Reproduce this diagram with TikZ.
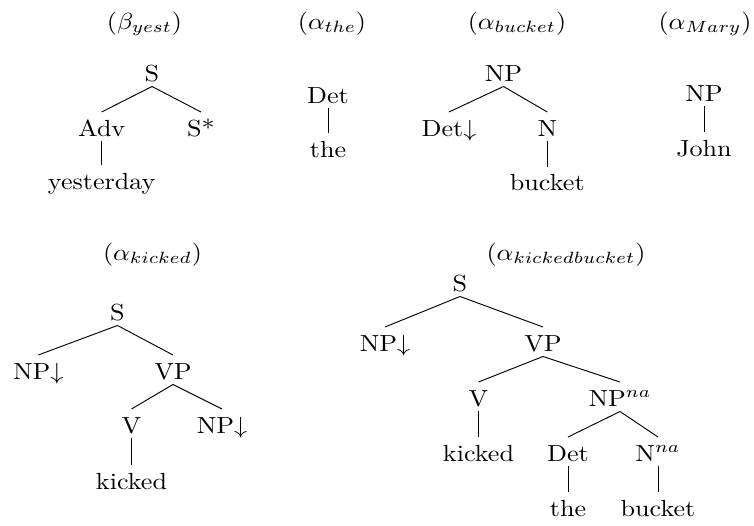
\documentclass[tikz,border=0pt]{standalone}
\usepackage{graphicx}
\newcommand{\wx}[1]{\scalebox{1.12}[1]{#1}}
\begin{document}
\begin{tikzpicture}[x=0.4292pt,y=-0.4292pt,
  tn/.style={anchor=base, inner xsep=1pt, inner ysep=0pt, text height=10.1pt, text depth=2.15pt},
  lab/.style={anchor=base, inner sep=0pt},
  edge/.style={line width=0.4pt}]
\useasboundingbox (0,0) rectangle (754,525);
% labels
\node[lab] (l1) at (144.5,29) {\wx{$(\beta_{yest})$}};
\node[lab] (l2) at (332,29) {\wx{$(\alpha_{the})$}};
\node[lab] (l3) at (517,29) {\wx{$(\alpha_{bucket})$}};
\node[lab] (l4) at (705,29) {\wx{$(\alpha_{Mary})$}};
\node[lab] (l5) at (152.5,260) {\wx{$(\alpha_{kicked})$}};
\node[lab] (l6) at (566,260) {\wx{$(\alpha_{kickedbucket})$}};
% beta yest
\node[tn] (bS) at (152,81) {\wx{S}};
\node[tn] (bAdv) at (101.7,136) {\wx{Adv}};
\node[tn] (bSs) at (201,136) {\wx{S*}};
\node[tn] (bY) at (101.7,189) {\wx{yesterday}};
\draw[edge] (bS.south) -- (bAdv.north);
\draw[edge] (bS.south) -- (bSs.north);
\draw[edge] (bAdv.south) -- (bY.north);
% alpha the
\node[tn] (tD) at (328,103) {\wx{Det}};
\node[tn] (tT) at (328,157) {\wx{the}};
\draw[edge] (tD.south) -- (tT.north);
% alpha bucket
\node[tn] (uNP) at (503.5,81) {\wx{NP}};
\node[tn] (uD) at (449,136) {\wx{Det$\downarrow$}};
\node[tn] (uN) at (547.3,136) {\wx{N}};
\node[tn] (uB) at (547.3,190.7) {\wx{bucket}};
\draw[edge] (uNP.south) -- (uD.north);
\draw[edge] (uNP.south) -- (uN.north);
\draw[edge] (uN.south) -- (uB.north);
% alpha Mary
\node[tn] (mNP) at (704,101) {\wx{NP}};
\node[tn] (mJ) at (704,156) {\wx{John}};
\draw[edge] (mNP.south) -- (mJ.north);
% alpha kicked
\node[tn] (kS) at (117.5,320) {\wx{S}};
\node[tn] (kNP) at (38.3,379) {\wx{NP$\downarrow$}};
\node[tn] (kVP) at (173,379) {\wx{VP}};
\node[tn] (kV) at (131.5,433) {\wx{V}};
\node[tn] (kNP2) at (222,433) {\wx{NP$\downarrow$}};
\node[tn] (kK) at (131.5,489) {\wx{kicked}};
\draw[edge] (kS.south) -- (kNP.north);
\draw[edge] (kS.south) -- (kVP.north);
\draw[edge] (kVP.south) -- (kV.north);
\draw[edge] (kVP.south) -- (kNP2.north);
\draw[edge] (kV.south) -- (kK.north);
% alpha kickedbucket
\node[tn] (cS) at (460,291) {\wx{S}};
\node[tn] (cNP) at (385,351) {\wx{NP$\downarrow$}};
\node[tn] (cVP) at (543,351) {\wx{VP}};
\node[tn] (cV) at (478.5,406) {\wx{V}};
\node[tn] (cNPna) at (620,406) {\wx{NP$^{na}$}};
\node[tn] (cK) at (478.5,461) {\wx{kicked}};
\node[tn] (cD) at (568,461) {\wx{Det}};
\node[tn] (cN) at (658,461) {\wx{N$^{na}$}};
\node[tn] (cT) at (568,516) {\wx{the}};
\node[tn] (cB) at (658,516) {\wx{bucket}};
\draw[edge] (cS.south) -- (cNP.north);
\draw[edge] (cS.south) -- (cVP.north);
\draw[edge] (cVP.south) -- (cV.north);
\draw[edge] (cVP.south) -- (cNPna.north);
\draw[edge] (cV.south) -- (cK.north);
\draw[edge] (cNPna.south) -- (cD.north);
\draw[edge] (cNPna.south) -- (cN.north);
\draw[edge] (cD.south) -- (cT.north);
\draw[edge] (cN.south) -- (cB.north);
\end{tikzpicture}
\end{document}
